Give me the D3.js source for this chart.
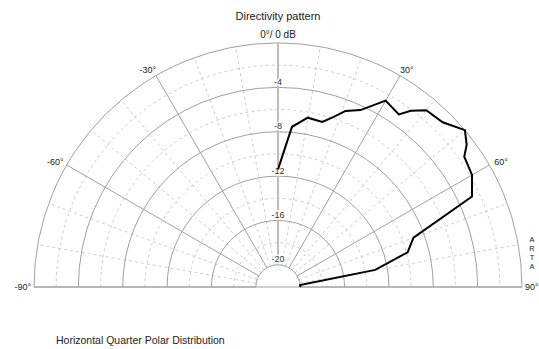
<!DOCTYPE html>
<html>
<head>
<meta charset="utf-8">
<script src="https://cdn.jsdelivr.net/npm/d3@7"></script>
<style>
  html, body { margin: 0; padding: 0; background: #fff; }
  svg { display: block; font-family: "Liberation Sans", Arial, sans-serif; }
</style>
</head>
<body>
<svg id="chart" width="539" height="349"></svg>
<script>
// Measured response: angle (degrees off axis) and relative level (dB)
const angles = [0, 5, 10, 15, 18, 21, 25, 30, 35, 37, 40, 45, 50, 53, 55, 60, 65, 70, 75, 80, 85, 90];
const levels = [-11.4, -7.5, -6.5, -6.6, -5.9, -5.0, -4.4, -2.6, -3.0, -2.1, -1.2, -1.0, 0, -0.7, -1.5, -1.8, -2.7, -9.0, -9.9, -13.1, -20, -20];

// Grid definition
const majorRings = [-20, -16, -12, -8, -4, 0];
const minorRings = [-18, -14, -10, -6, -2];
const ringLabels = [-4, -8, -12, -16, -20];
const majorSpokes = [-90, -60, -30, 30, 60, 90];
const minorSpokes = [-80, -70, -50, -40, -20, -10, 10, 20, 40, 50, 70, 80];
const angleLabels = [
  { a: -90, text: "-90°" }, { a: -60, text: "-60°" }, { a: -30, text: "-30°" },
  { a: 30, text: "30°" }, { a: 60, text: "60°" }, { a: 90, text: "90°" }
];

const svg = d3.select("#chart");
const cx = 278, cy = 287, R = 244;
const rScale = d3.scaleLinear().domain([-22, 0]).range([0, R]);
const rad = d => d * Math.PI / 180;
const polar = (deg, r) => [r * Math.sin(rad(deg)), -r * Math.cos(rad(deg))];

svg.append("text")
  .attr("x", cx).attr("y", 20)
  .attr("text-anchor", "middle")
  .attr("font-size", 11).attr("fill", "#222")
  .text("Directivity pattern");

const g = svg.append("g").attr("transform", `translate(${cx},${cy})`);

function halfRing(r) {
  const p = d3.path();
  p.moveTo(-r, 0);
  p.arc(0, 0, r, -Math.PI, 0, false);
  return p.toString();
}

// minor (dashed) rings and spokes
g.selectAll(".minor-ring").data(minorRings).join("path")
  .attr("d", d => halfRing(rScale(d)))
  .attr("fill", "none").attr("stroke", "#cdcdcd").attr("stroke-width", 1)
  .attr("stroke-dasharray", "3,3");

g.selectAll(".minor-spoke").data(minorSpokes).join("line")
  .attr("x1", d => polar(d, rScale(-20))[0]).attr("y1", d => polar(d, rScale(-20))[1])
  .attr("x2", d => polar(d, R)[0]).attr("y2", d => polar(d, R)[1])
  .attr("stroke", "#cdcdcd").attr("stroke-width", 1).attr("stroke-dasharray", "3,3");

// major rings and spokes
g.selectAll(".major-ring").data(majorRings).join("path")
  .attr("d", d => halfRing(rScale(d)))
  .attr("fill", "none").attr("stroke", "#a0a0a0").attr("stroke-width", 1);

g.selectAll(".major-spoke").data(majorSpokes).join("line")
  .attr("x1", d => polar(d, rScale(-20))[0]).attr("y1", d => polar(d, rScale(-20))[1])
  .attr("x2", d => polar(d, R)[0]).attr("y2", d => polar(d, R)[1])
  .attr("stroke", "#a0a0a0").attr("stroke-width", 1);

// baseline across the full width
g.append("line")
  .attr("x1", -R).attr("y1", 0).attr("x2", R).attr("y2", 0)
  .attr("stroke", "#a0a0a0").attr("stroke-width", 1);

// on-axis reference line
g.append("line")
  .attr("x1", 0).attr("y1", -rScale(-20)).attr("x2", 0).attr("y2", -R)
  .attr("stroke", "#bdbdbd").attr("stroke-width", 2);

// level labels along the axis
g.selectAll(".ring-label").data(ringLabels).join("text")
  .attr("x", 0).attr("y", d => -rScale(d) - 2.5)
  .attr("text-anchor", "middle")
  .attr("font-size", 9).attr("fill", "#333")
  .attr("stroke", "#fff").attr("stroke-width", 3).attr("paint-order", "stroke")
  .text(d => d);

g.append("text")
  .attr("x", 0).attr("y", -R - 5)
  .attr("text-anchor", "middle")
  .attr("font-size", 10).attr("fill", "#222")
  .text("0°/ 0 dB");

// angle labels around the rim
g.selectAll(".angle-label").data(angleLabels).join("text")
  .attr("x", d => {
    const [x] = polar(d.a, R);
    if (Math.abs(d.a) === 30) return x;
    if (d.a === 90) return x + 3;
    return x + (d.a > 0 ? 5 : -3);
  })
  .attr("y", d => {
    const [, y] = polar(d.a, R);
    if (Math.abs(d.a) === 30) return y - 2.5;
    if (Math.abs(d.a) === 90) return y + 3;
    return y;
  })
  .attr("text-anchor", d => d.a > 0 ? "start" : "end")
  .attr("font-size", 9).attr("fill", "#222")
  .text(d => d.text);

// response curve
const data = angles.map((a, i) => ({ a, v: levels[i] }));
const line = d3.lineRadial()
  .angle(d => rad(d.a))
  .radius(d => rScale(d.v));

g.append("path")
  .datum(data)
  .attr("d", line)
  .attr("fill", "none")
  .attr("stroke", "#000")
  .attr("stroke-width", 2)
  .attr("stroke-linejoin", "miter");

// vertical program mark, stacked upright letters
svg.append("text")
  .attr("x", 532).attr("y", 235)
  .style("writing-mode", "vertical-rl")
  .style("text-orientation", "upright")
  .attr("font-size", 7.4).attr("fill", "#222")
  .text("ARTA");

svg.append("text")
  .attr("x", 56).attr("y", 344)
  .attr("font-size", 10.5).attr("fill", "#222")
  .text("Horizontal Quarter Polar Distribution");
</script>
</body>
</html>
